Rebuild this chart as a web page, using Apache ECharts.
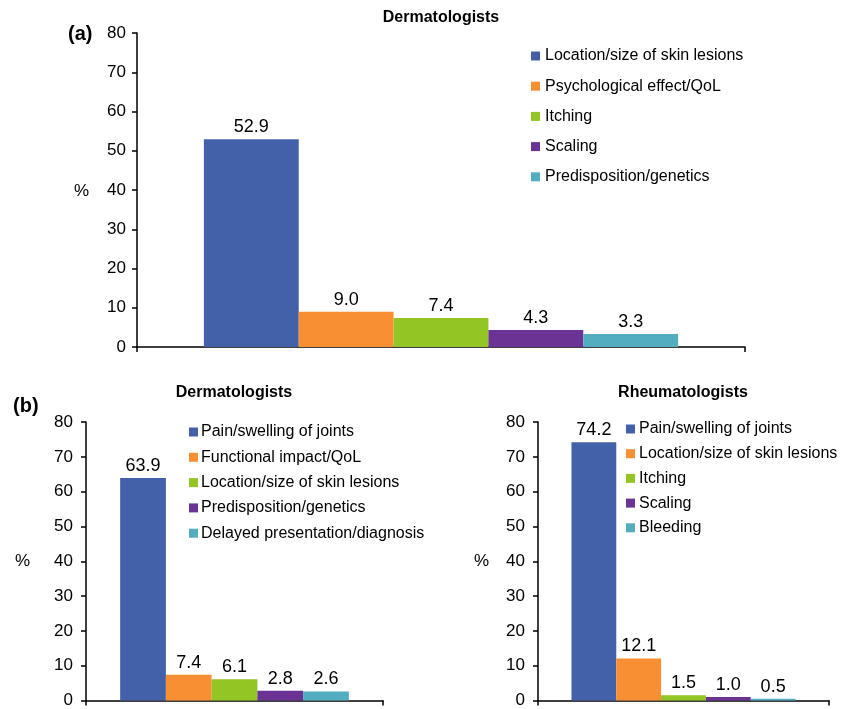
<!DOCTYPE html>
<html>
<head>
<meta charset="utf-8">
<script src="https://cdn.jsdelivr.net/npm/echarts@6/dist/echarts.min.js"></script>
<style>
  html, body { margin: 0; padding: 0; background: #fff; }
  #chart { width: 845px; height: 709px; }
</style>
</head>
<body>
<div id="chart"></div>
<script>
// Panel (a): dermatologists' view of skin psoriasis factors
const catsA = ['Location/size of skin lesions', 'Psychological effect/QoL', 'Itching', 'Scaling', 'Predisposition/genetics'];
const valsA = [52.9, 9.0, 7.4, 4.3, 3.3];

// Panel (b), left: dermatologists on psoriatic arthritis factors
const catsB1 = ['Pain/swelling of joints', 'Functional impact/QoL', 'Location/size of skin lesions', 'Predisposition/genetics', 'Delayed presentation/diagnosis'];
const valsB1 = [63.9, 7.4, 6.1, 2.8, 2.6];

// Panel (b), right: rheumatologists on psoriatic arthritis factors
const catsB2 = ['Pain/swelling of joints', 'Location/size of skin lesions', 'Itching', 'Scaling', 'Bleeding'];
const valsB2 = [74.2, 12.1, 1.5, 1.0, 0.5];

const yTicks = { min: 0, max: 80, interval: 10 };
const colors = ['#4361A8', '#F98F33', '#93C525', '#6B3393', '#52ADC0'];

const FONT = 'Liberation Sans, Arial, sans-serif';

const panels = [
  { key: 'a', cats: catsA, vals: valsA, grid: { left: 137, top: 33, width: 608, height: 314 }, gap: '22%',
    legend: { left: 526, top: 43, itemGap: 14.2, pad: 0 }, tickMargin: 11 },
  { key: 'b1', cats: catsB1, vals: valsB1, grid: { left: 86, top: 422, width: 297, height: 280 }, gap: '23%',
    legend: { left: 184, top: 419, itemGap: 9.3, pad: -2 }, tickMargin: 13 },
  { key: 'b2', cats: catsB2, vals: valsB2, grid: { left: 538, top: 422, width: 291, height: 280 }, gap: '23%',
    legend: { left: 621, top: 416, itemGap: 8.7, pad: -1 }, tickMargin: 13 }
];

const grid = [], xAxis = [], yAxis = [], series = [], legend = [];

panels.forEach((p, i) => {
  grid.push(Object.assign({ containLabel: false }, p.grid));
  xAxis.push({
    type: 'category', gridIndex: i, data: [''],
    axisLine: { lineStyle: { color: '#000', width: 1.5 } },
    axisTick: { show: true, length: 5, lineStyle: { color: '#000', width: 1.5 } },
    axisLabel: { show: false }, splitLine: { show: false }
  });
  yAxis.push({
    type: 'value', gridIndex: i, min: yTicks.min, max: yTicks.max, interval: yTicks.interval,
    axisLine: { show: true, lineStyle: { color: '#000', width: 1.5 } },
    axisTick: { show: true, length: 5, lineStyle: { color: '#000', width: 1.5 } },
    axisLabel: { color: '#000', fontSize: 17, fontFamily: FONT, margin: p.tickMargin },
    splitLine: { show: false }
  });
  const names = [];
  p.cats.forEach((c, j) => {
    const name = p.key + '|' + c;
    names.push(name);
    series.push({
      type: 'bar', name: name, xAxisIndex: i, yAxisIndex: i,
      data: [p.vals[j]],
      barGap: '0%', barCategoryGap: p.gap,
      itemStyle: { color: colors[j] },
      label: {
        show: true, position: 'top', distance: 3, color: '#000', fontSize: 18, fontFamily: FONT,
        formatter: (d) => d.value.toFixed(1)
      },
      emphasis: { disabled: true },
      animation: false
    });
  });
  legend.push({
    orient: 'vertical', left: p.legend.left, top: p.legend.top,
    itemWidth: 9, itemHeight: 9, itemGap: p.legend.itemGap,
    icon: 'rect', selectedMode: false,
    data: names,
    formatter: (n) => n.split('|')[1],
    textStyle: { color: '#000', fontSize: 16, fontFamily: FONT, padding: [0, 0, 0, p.legend.pad] }
  });
});

const titleStyle = { color: '#000', fontSize: 16, fontWeight: 'bold', fontFamily: FONT };
const panelTagStyle = { color: '#000', fontSize: 20, fontWeight: 'bold', fontFamily: FONT };
const unitStyle = { color: '#000', fontSize: 17, fontWeight: 'normal', fontFamily: FONT };

const title = [
  { text: 'Dermatologists', left: 441, top: 10, textAlign: 'center', textStyle: titleStyle, padding: 0 },
  { text: '(a)', left: 68, top: 24, textStyle: panelTagStyle, padding: 0 },
  { text: '%', left: 74, top: 183, textStyle: unitStyle, padding: 0 },
  { text: 'Dermatologists', left: 234, top: 385, textAlign: 'center', textStyle: titleStyle, padding: 0 },
  { text: '(b)', left: 13, top: 396, textStyle: panelTagStyle, padding: 0 },
  { text: '%', left: 15, top: 553, textStyle: unitStyle, padding: 0 },
  { text: 'Rheumatologists', left: 683, top: 385, textAlign: 'center', textStyle: titleStyle, padding: 0 },
  { text: '%', left: 474, top: 553, textStyle: unitStyle, padding: 0 }
];

const chart = echarts.init(document.getElementById('chart'), null, { renderer: 'canvas' });
chart.setOption({
  backgroundColor: '#fff',
  animation: false,
  title, grid, xAxis, yAxis, series, legend
});
</script>
</body>
</html>
